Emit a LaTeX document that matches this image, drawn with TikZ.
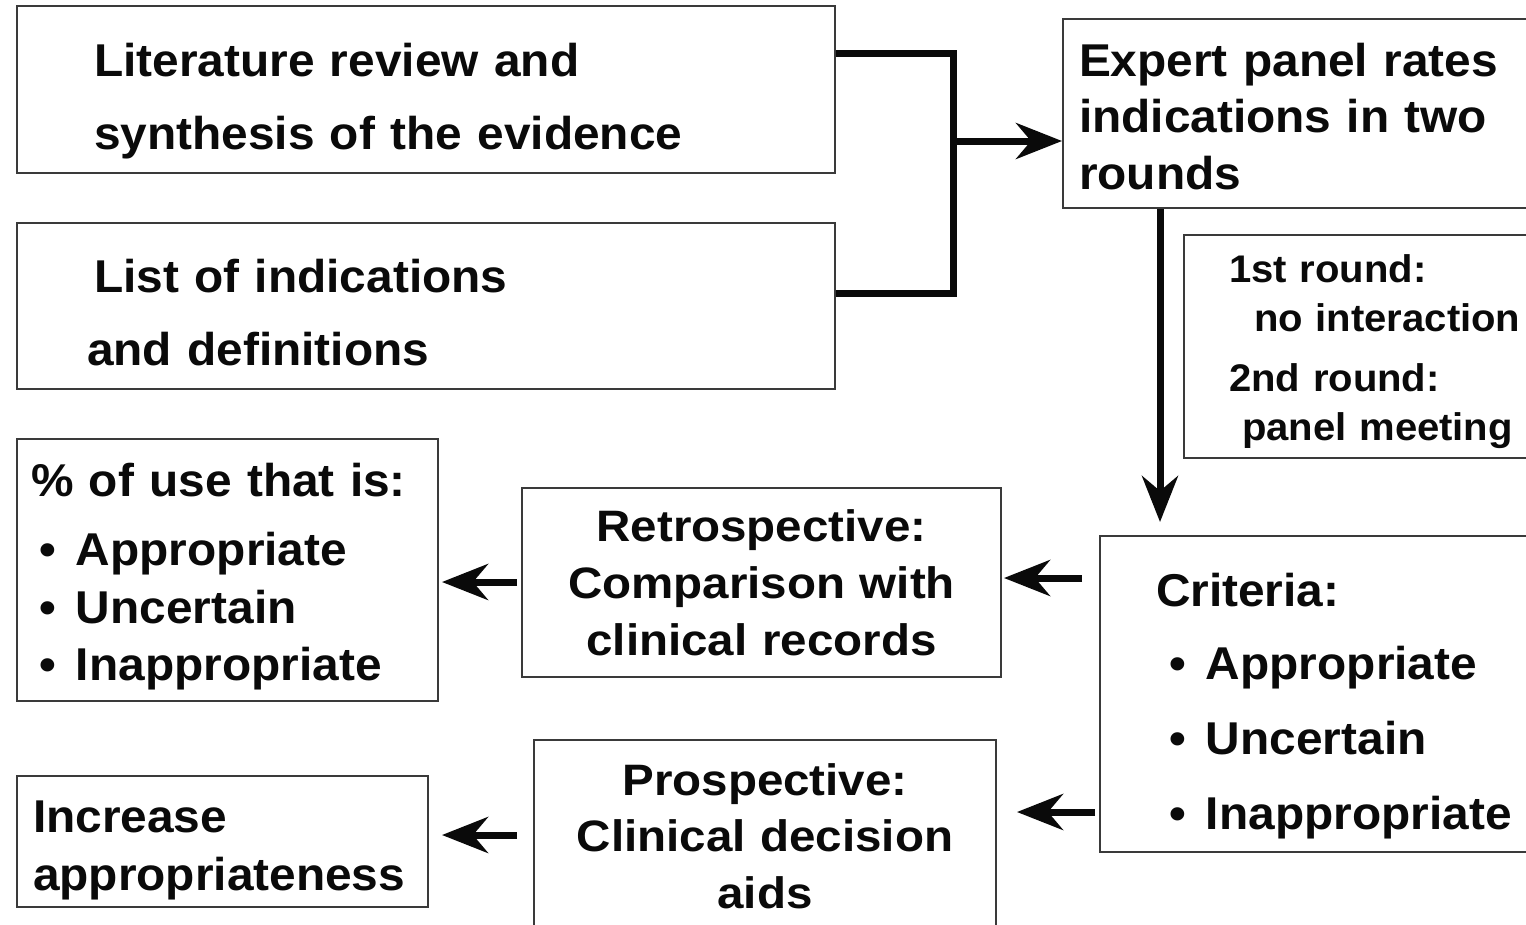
\documentclass[tikz,border=0pt]{standalone}
\usepackage{fontspec}
\usepackage{tikz}
\usetikzlibrary{arrows.meta,positioning,calc}
\newfontfamily\ambold{Liberation Sans}[FakeStretch=1.04]
\newfontfamily\amwide{Liberation Sans}[FakeStretch=1.08]
\definecolor{amline}{HTML}{3A3A3A}
\definecolor{amink}{HTML}{0A0A0A}
\newcommand{\bulletitem}[2]{\hspace*{#1}\makebox[37pt][l]{\textbullet}#2}
\newcommand{\topgap}[1]{\rule{0pt}{#1}}
\tikzset{
  am/box/.style={
    draw=amline, line width=2pt, anchor=north west, align=left,
    inner ysep=0pt, text=amink
  },
  am/txt/.style={font=\ambold\bfseries\fontsize{46}{#1}\selectfont},
  am/small/.style={font=\ambold\bfseries\fontsize{38.5}{#1}\selectfont},
  am/wide/.style={font=\amwide\bfseries\fontsize{44}{#1}\selectfont, align=center},
  am/link/.style={line width=7pt, amink},
  am/arr/.style={-{Stealth[length=46pt, width=36pt, inset=15pt]}, line width=7pt, amink}
}

\begin{document}
\begin{tikzpicture}[x=1pt, y=-1pt]
  \useasboundingbox (0,0) rectangle (1526,924);
  \clip (0,0) rectangle (1526,924);
  \fill[white] (0,0) rectangle (1526,924);

  % sources of the ratings
  \node[am/box, am/txt=73, minimum width=818pt, minimum height=167pt,
    inner xsep=77pt, text width=664pt] (lit) at (16,5)
    {\topgap{57pt}Literature review and\\synthesis of the evidence};
  \node[am/box, am/txt=73, minimum width=818pt, minimum height=166pt,
    inner xsep=70pt, text width=678pt] (list) at (16,222)
    {\topgap{47pt}\hspace*{7pt}List of indications\\and definitions};

  % panel
  \node[am/box, am/txt=56.5, minimum width=480pt, minimum height=189pt,
    inner xsep=16pt, text width=448pt] (expert) at (1062,18)
    {\topgap{39pt}Expert panel rates\\indications in two\\rounds};
  \node[am/box, am/small=49, minimum width=400pt, minimum height=223pt,
    inner xsep=45pt, text width=310pt] (rounds) at (1183,234)
    {\topgap{37.5pt}1st round:\\\hspace*{25pt}no interaction\\[11pt]2nd round:\\\hspace*{13pt}panel meeting};
  \node[am/box, am/txt=75, minimum width=480pt, minimum height=316pt,
    inner xsep=56pt, text width=368pt] (crit) at (1099,535)
    {\topgap{57pt}Criteria:\\[-2pt]\bulletitem{13pt}{Appropriate}\\\bulletitem{13pt}{Uncertain}\\\bulletitem{13pt}{Inappropriate}};

  % uses of the criteria
  \node[am/box, am/wide=57, minimum width=479pt, minimum height=189pt,
    inner xsep=10pt, text width=459pt] (retro) at (521,487)
    {Retrospective:\\Comparison with\\clinical records};
  \node[am/box, am/wide=56.5, minimum width=462pt, minimum height=200pt,
    inner xsep=10pt, text width=442pt] (prosp) at (533,739)
    {Prospective:\\Clinical decision\\aids\rule[-8pt]{0pt}{8pt}};
  \node[am/box, am/txt=57.5, minimum width=421pt, minimum height=262pt,
    inner xsep=14pt, text width=393pt] (pct) at (16,438)
    {\topgap{47pt}\% of use that is:\\[12pt]\bulletitem{8pt}{Appropriate}\\\bulletitem{8pt}{Uncertain}\\\bulletitem{8pt}{Inappropriate}};
  \node[am/box, am/txt=58, minimum width=411pt, minimum height=131pt,
    inner xsep=16pt, text width=379pt] (incr) at (16,775)
    {\topgap{49pt}Increase\\appropriateness};

  % connectors
  \coordinate (jtop) at (953,53);
  \coordinate (jbot) at (953,293);
  \coordinate (jn) at (953,141);
  \coordinate (dn) at (1160,0);
  \coordinate (ra) at (0,578);
  \coordinate (pa) at (0,812);
  \coordinate (ua) at (0,582);
  \coordinate (ia) at (0,835);
  \draw[am/link] (lit.east |- jtop) -- (jtop) -- (jbot) -- (list.east |- jbot);
  \draw[am/arr] (jn) -- (jn -| expert.west);
  \draw[am/arr, shorten >=13pt] (expert.south -| dn) -- (crit.north -| dn);
  \draw[am/arr, shorten <=17pt, shorten >=2pt] (crit.west |- ra) -- (retro.east |- ra);
  \draw[am/arr, shorten <=4pt, shorten >=20pt] (crit.west |- pa) -- (prosp.east |- pa);
  \draw[am/arr, shorten <=4pt, shorten >=3pt] (retro.west |- ua) -- (pct.east |- ua);
  \draw[am/arr, shorten <=16pt, shorten >=13pt] (prosp.west |- ia) -- (incr.east |- ia);
\end{tikzpicture}
\end{document}
